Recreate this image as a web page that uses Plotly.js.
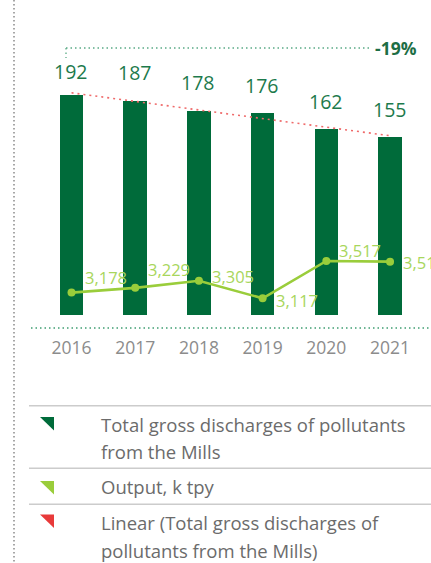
<!DOCTYPE html>
<html>
<head>
<meta charset="utf-8">
<script src="https://cdn.plot.ly/plotly-3.0.1.min.js"></script>
<style>html,body{margin:0;padding:0;background:#fff;}#chart{width:431px;height:563px;}</style>
</head>
<body>
<div id="chart"></div>
<script>
// ---- data ----
const years = ["2016", "2017", "2018", "2019", "2020", "2021"];
const discharges = [192, 187, 178, 176, 162, 155];
const output = [3178, 3229, 3305, 3117, 3517, 3510];
const changeLabel = "-19%";
const seriesNames = ["Total gross discharges of pollutants from the Mills", "Output, k tpy", "Linear (Total gross discharges of pollutants from the Mills)"];

// ---- layout helpers (pixel -> paper) ----
const L = 31, T = 40, W = 400, H = 288;
const px = x => (x - L) / W;
const py = y => (T + H - y) / H;

const xi = years.map((_, i) => i);

// linear trend of discharges (least squares)
const n = discharges.length;
const mx = xi.reduce((a, b) => a + b, 0) / n;
const my = discharges.reduce((a, b) => a + b, 0) / n;
let sxy = 0, sxx = 0;
xi.forEach((x, i) => { sxy += (x - mx) * (discharges[i] - my); sxx += (x - mx) * (x - mx); });
const slope = sxy / sxx;
const trend = xi.map(x => my + slope * (x - mx));

const font = "Open Sans, Noto Sans, sans-serif";
const barColor = "#006b3a";
const lineColor = "#9acd3b";
const trendColor = "#ef6a6a";

const traces = [
  {type: "bar", x: xi, y: discharges, width: 0.37, marker: {color: barColor}, hoverinfo: "none", name: seriesNames[0]},
  {type: "scatter", mode: "lines", x: xi, y: trend, line: {color: trendColor, width: 1.6, dash: "2px,4px"}, hoverinfo: "none", name: seriesNames[2]},
  {type: "scatter", mode: "lines+markers", x: xi, y: output, yaxis: "y2", line: {color: lineColor, width: 2.6}, marker: {color: lineColor, size: 8}, hoverinfo: "none", name: seriesNames[1]}
];

const annotations = [];
const barShift = [23, 28, 28, 28, 28, 28];
xi.forEach((x, i) => {
  annotations.push({x: x, y: discharges[i], xref: "x", yref: "y", text: String(discharges[i]), showarrow: false,
    yshift: barShift[i], xshift: -1, yanchor: "middle", xanchor: "center", font: {family: font, size: 19.5, color: "#1d7a4c"}});
});
const lblDy = [15, 18, 4, -2, 10, -1];
xi.forEach((x, i) => {
  annotations.push({x: x, y: output[i], xref: "x", yref: "y2", text: output[i].toLocaleString("en-US"), showarrow: false,
    xanchor: "left", yanchor: "middle", xshift: 11, yshift: lblDy[i], font: {family: font, size: 16.5, color: "#a8d65c"}});
});
annotations.push({x: px(373), y: py(48), xref: "paper", yref: "paper", text: "<b>" + changeLabel + "</b>", showarrow: false,
  xanchor: "left", yanchor: "middle", font: {family: font, size: 17.5, color: "#1d6e45"}});

// legend rows
const legRows = [
  {lines: ["Total gross discharges of pollutants", "from the Mills"], ys: [424.3, 451], color: barColor, tri: 417},
  {lines: ["Output, k tpy"], ys: [486.7], color: lineColor, tri: 481},
  {lines: ["Linear (Total gross discharges of", "pollutants from the Mills)"], ys: [522.3, 550], color: "#e83a3a", tri: 514.5}
];
const shapes = [];
legRows.forEach(r => {
  r.lines.forEach((t, k) => {
    annotations.push({x: px(99), y: py(r.ys[k]), xref: "paper", yref: "paper", text: t, showarrow: false,
      xanchor: "left", yanchor: "middle", font: {family: font, size: 18.5, color: "#6b6b6b"}});
  });
  const x0 = px(40), x1 = px(54), y0 = py(r.tri), y1 = py(r.tri + 13.5);
  shapes.push({type: "path", xref: "paper", yref: "paper", path: `M ${x0} ${y0} L ${x1} ${y0} L ${x1} ${y1} Z`,
    fillcolor: r.color, line: {width: 0}});
});
[405.7, 468.3, 504.3].forEach(y => {
  shapes.push({type: "line", xref: "paper", yref: "paper", x0: px(29), x1: px(431), y0: py(y), y1: py(y), line: {color: "#cccccc", width: 1.5}});
});
// axis baseline dotted
shapes.push({type: "line", xref: "paper", yref: "paper", x0: 0, x1: 1, y0: 0, y1: 0, line: {color: "#3f9e72", width: 1.5, dash: "1.5px,3px"}});
// left dotted border
shapes.push({type: "line", xref: "paper", yref: "paper", x0: px(14), x1: px(14), y0: py(0), y1: py(563), line: {color: "#8a8a8a", width: 1.5, dash: "1.5px,2.5px"}});
// -19% bracket
shapes.push({type: "line", xref: "paper", yref: "paper", x0: px(66), x1: px(371), y0: py(48), y1: py(48), line: {color: "#5aab86", width: 1.3, dash: "1.5px,3px"}});
shapes.push({type: "line", xref: "paper", yref: "paper", x0: px(66), x1: px(66), y0: py(48), y1: py(58), line: {color: "#5aab86", width: 1.3, dash: "1.5px,3px"}});

const layout = {
  width: 431, height: 563,
  margin: {l: L, r: 431 - L - W, t: T, b: 563 - T - H, pad: 0},
  paper_bgcolor: "#ffffff", plot_bgcolor: "#ffffff",
  showlegend: false,
  bargap: 0,
  xaxis: {range: [-0.636, 5.643], tickvals: xi, ticktext: years, showgrid: false, zeroline: false, showline: false,
    ticks: "", ticklabelstandoff: 7, tickfont: {family: font, size: 17.5, color: "#8c8c8c"}, fixedrange: true},
  yaxis: {range: [-11.33, 239.77], visible: false, fixedrange: true},
  yaxis2: {range: [2798.7, 5885.7], overlaying: "y", side: "right", visible: false, fixedrange: true},
  annotations: annotations,
  shapes: shapes
};

Plotly.newPlot("chart", traces, layout, {staticPlot: true, displayModeBar: false});
</script>
</body>
</html>
